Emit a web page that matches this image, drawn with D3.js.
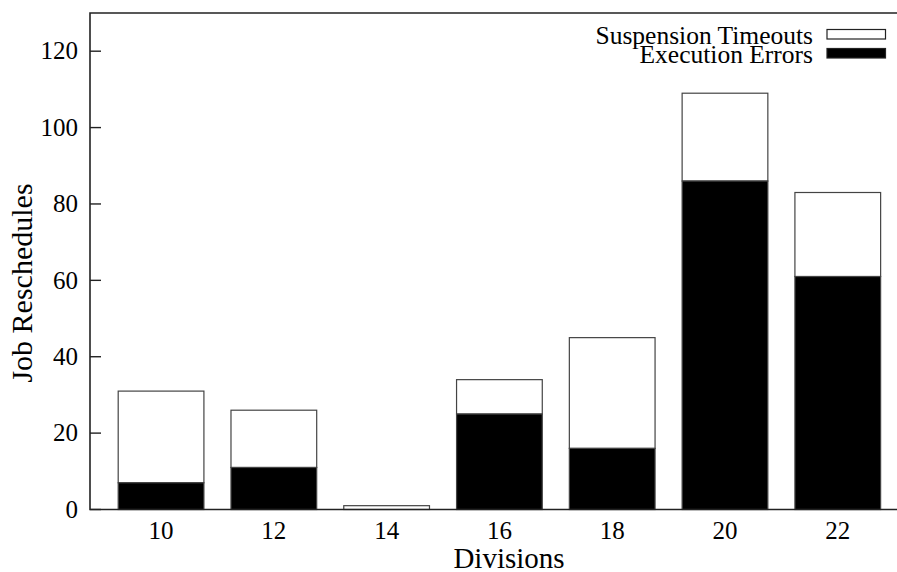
<html>
<head>
<script src="https://d3js.org/d3.v7.min.js"></script>
<style>
body { margin: 0; background: #fff; }
svg text { font-family: 'Liberation Serif', 'Times New Roman', serif; fill: #000; }
</style>
</head>
<body>
<svg id="chart" width="897" height="572"></svg>
<script>
// chart values
var divisions = ["10", "12", "14", "16", "18", "20", "22"];
var executionErrors = [7, 11, 0, 25, 16, 86, 61];
var suspensionTimeouts = [24, 15, 1, 9, 29, 23, 22];
var yTicks = [0, 20, 40, 60, 80, 100, 120];
var seriesNames = ["Suspension Timeouts", "Execution Errors"];

var svg = d3.select("#chart");
var plotL = 90, plotR = 928, plotT = 13, plotB = 509.5;

var x = d3.scaleLinear().domain([-0.63, 6.8]).range([plotL, plotR]);
var y = d3.scaleLinear().domain([0, 130]).range([plotB, plotT]);
var boxWidth = 0.76;

// stacked data
var rows = divisions.map(function (d, i) {
    return { div: d, i: i, err: executionErrors[i], sus: suspensionTimeouts[i] };
});

var bars = svg.append("g");
// timeouts on top of errors
bars.selectAll("rect.sus")
    .data(rows)
    .enter().append("rect")
    .attr("class", "sus")
    .attr("x", function (d) { return x(d.i - boxWidth / 2); })
    .attr("width", function (d) { return x(boxWidth) - x(0); })
    .attr("y", function (d) { return y(d.err + d.sus); })
    .attr("height", function (d) { return y(d.err) - y(d.err + d.sus); })
    .style("fill", "#fff")
    .style("stroke", "#444")
    .style("stroke-width", 1.2);

bars.selectAll("rect.err")
    .data(rows.filter(function (d) { return d.err > 0; }))
    .enter().append("rect")
    .attr("class", "err")
    .attr("x", function (d) { return x(d.i - boxWidth / 2); })
    .attr("width", function (d) { return x(boxWidth) - x(0); })
    .attr("y", function (d) { return y(d.err); })
    .attr("height", function (d) { return y(0) - y(d.err); })
    .style("fill", "#000")
    .style("stroke", "#444")
    .style("stroke-width", 1.2);

// border
svg.append("path")
    .attr("d", "M" + plotR + "," + plotT + "H" + plotL + "V" + plotB + "H" + plotR)
    .style("fill", "none")
    .style("stroke", "#222")
    .style("stroke-width", 1.6);

// y ticks
var yt = svg.selectAll("g.ytick")
    .data(yTicks)
    .enter().append("g")
    .attr("class", "ytick")
    .attr("transform", function (d) { return "translate(0," + y(d) + ")"; });

yt.append("line")
    .attr("x1", plotL)
    .attr("x2", plotL + 11)
    .style("stroke", "#222")
    .style("stroke-width", 1.4);

yt.append("text")
    .attr("x", 78)
    .attr("dy", "0.33em")
    .attr("text-anchor", "end")
    .style("font-size", "25px")
    .text(function (d) { return d; });

// x labels
svg.selectAll("text.xlab")
    .data(rows)
    .enter().append("text")
    .attr("class", "xlab")
    .attr("x", function (d) { return x(d.i); })
    .attr("y", 539)
    .attr("text-anchor", "middle")
    .style("font-size", "25px")
    .text(function (d) { return d.div; });

// axis titles
svg.append("text")
    .attr("x", 509)
    .attr("y", 568)
    .attr("text-anchor", "middle")
    .style("font-size", "29px")
    .text("Divisions");

svg.append("text")
    .attr("transform", "translate(32,283) rotate(-90)")
    .attr("text-anchor", "middle")
    .style("font-size", "30px")
    .text("Job Reschedules");

// legend
var legend = svg.selectAll("g.legend")
    .data(seriesNames)
    .enter().append("g")
    .attr("class", "legend")
    .attr("transform", function (d, i) { return "translate(0," + (34 + i * 19) + ")"; });

legend.append("text")
    .attr("x", 813)
    .attr("y", 10)
    .attr("text-anchor", "end")
    .style("font-size", "25.5px")
    .text(function (d) { return d; });

legend.append("rect")
    .attr("x", 827)
    .attr("y", -4.5)
    .attr("width", 58.5)
    .attr("height", 9.5)
    .style("fill", function (d, i) { return i === 0 ? "#fff" : "#000"; })
    .style("stroke", "#222")
    .style("stroke-width", 1.2);
</script>
</body>
</html>
